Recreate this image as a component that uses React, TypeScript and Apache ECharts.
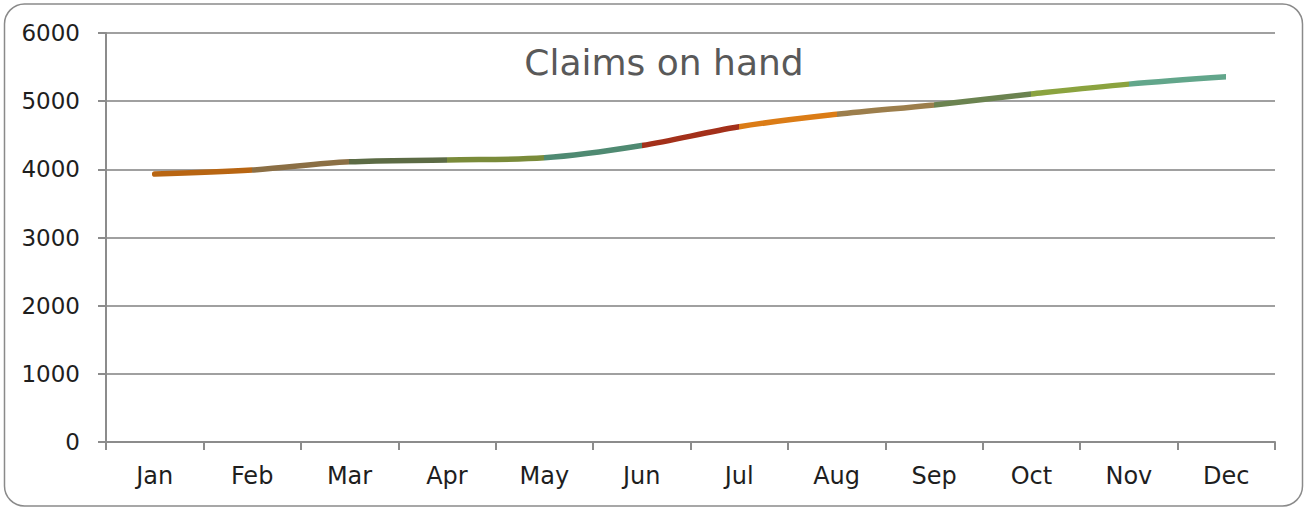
import React, { useEffect, useRef } from "react";
import * as echarts from "echarts";

const months = ["Jan", "Feb", "Mar", "Apr", "May", "Jun", "Jul", "Aug", "Sep", "Oct", "Nov", "Dec"];
const claims = [3930, 3990, 4110, 4137, 4170, 4350, 4625, 4807, 4945, 5105, 5250, 5358];
const segmentColors = [
  "#B86512", "#8B6F45", "#5C6B45", "#7A8B3A", "#4F8A72", "#A3301A",
  "#DB7C16", "#9C7E4C", "#6B8350", "#8BA33F", "#62A68B",
];
const yTicks = { min: 0, max: 6000, interval: 1000 };
const titleText = "Claims on hand";

export default function App() {
  const ref = useRef<HTMLDivElement>(null);
  useEffect(() => {
    document.body.style.margin = "0";
    if (!ref.current) return;
    const chart = echarts.init(ref.current, null, { renderer: "svg" });
    const font = "DejaVu Sans";
    const pieces = segmentColors.map((c, i) =>
      i === 0 ? { lte: 1, color: c } : { gt: i, lte: i + 1, color: c }
    );
    chart.setOption({
      animation: false,
      textStyle: { fontFamily: font },
      graphic: [
        {
          type: "rect",
          shape: { x: 4.5, y: 4, width: 1298, height: 502, r: 20 },
          style: { fill: "none", stroke: "#8a8a8a", lineWidth: 1.5 },
          silent: true,
        },
        {
          type: "text",
          x: 664,
          y: 62,
          style: {
            text: titleText,
            fontFamily: font,
            fontSize: 36,
            fill: "#595959",
            textAlign: "center",
            textVerticalAlign: "middle",
          },
        },
      ],
      grid: { left: 106, right: 31, top: 33, bottom: 66, containLabel: false },
      visualMap: {
        show: false,
        type: "piecewise",
        dimension: 0,
        seriesIndex: 0,
        pieces,
      },
      xAxis: {
        type: "category",
        data: months,
        boundaryGap: true,
        axisLine: { lineStyle: { color: "#8c8c8c", width: 2 } },
        axisTick: { show: true, length: 8, lineStyle: { color: "#8c8c8c", width: 2 } },
        axisLabel: { color: "#1e1e1e", fontSize: 24, margin: 22, fontFamily: font },
        splitLine: { show: false },
      },
      yAxis: {
        type: "value",
        min: yTicks.min,
        max: yTicks.max,
        interval: yTicks.interval,
        axisLine: { show: true, lineStyle: { color: "#8c8c8c", width: 2 } },
        axisTick: { show: true, length: 8, lineStyle: { color: "#8c8c8c", width: 2 } },
        axisLabel: {
          color: "#1e1e1e",
          fontSize: 23,
          margin: 26,
          fontFamily: font,
          formatter: (v: number) => String(v),
        },
        splitLine: { show: true, lineStyle: { color: "#a0a0a0", width: 2 } },
      },
      series: [
        {
          type: "line",
          data: claims,
          smooth: 0.35,
          showSymbol: false,
          symbol: "none",
          lineStyle: { width: 5.5, cap: "round" },
        },
      ],
    });
    return () => chart.dispose();
  }, []);
  return <div ref={ref} style={{ width: 1306, height: 508 }} />;
}
